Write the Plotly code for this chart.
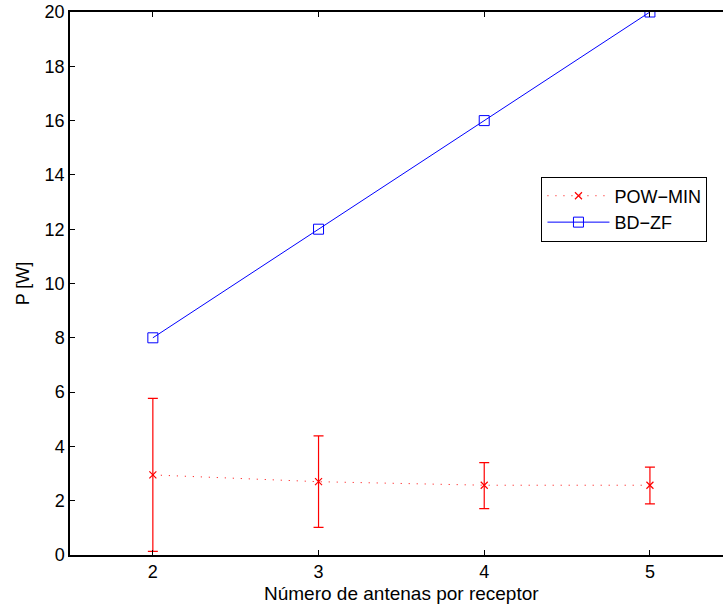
import plotly.graph_objects as go

x_vals = [2, 3, 4, 5]
bdzf = [8, 12, 16, 20]
pow_mean = [2.95, 2.70, 2.57, 2.57]
pow_upper = [5.77, 4.39, 3.40, 3.24]
pow_lower = [0.13, 1.02, 1.71, 1.88]

err_plus = [u - m for u, m in zip(pow_upper, pow_mean)]
err_minus = [m - l for m, l in zip(pow_mean, pow_lower)]

font_family = "Liberation Sans, Arial, Helvetica, sans-serif"
fs = 18

fig = go.Figure()
fig.add_trace(go.Scatter(
    x=x_vals, y=pow_mean, name="POW\u2212MIN", mode="lines+markers",
    line=dict(color="red", width=1, dash="1px,7px"),
    marker=dict(symbol="x-thin", size=7, line=dict(color="red", width=1.2), color="red"),
    error_y=dict(type="data", array=err_plus, arrayminus=err_minus, symmetric=False,
                 color="red", thickness=1.2, width=5),
))
fig.add_trace(go.Scatter(
    x=x_vals, y=bdzf, name="BD\u2212ZF", mode="lines+markers",
    line=dict(color="blue", width=1),
    marker=dict(symbol="square-open", size=10, color="blue", line=dict(width=1)),
))

fig.update_layout(
    width=723, height=605,
    margin=dict(l=70, r=0, t=12, b=50),
    paper_bgcolor="white", plot_bgcolor="white",
    font=dict(family=font_family, size=fs, color="black"),
    showlegend=True,
    legend=dict(x=0.722, y=0.697, xanchor="left", yanchor="top",
                bgcolor="white", bordercolor="black", borderwidth=1,
                font=dict(size=fs), itemwidth=62, tracegroupgap=0),
    annotations=[dict(text="Número de antenas por receptor", xref="paper", yref="paper",
                      x=0.507, y=0, xanchor="center", yanchor="top", yshift=-26,
                      showarrow=False, font=dict(size=19))],
)
fig.update_xaxes(
    range=[1.5, 5.441], tickvals=x_vals, ticks="inside", ticklen=5, tickwidth=1,
    tickcolor="black", showline=True, linecolor="black", linewidth=1.5,
    mirror="ticks", showgrid=False, zeroline=False,
)
fig.update_yaxes(
    range=[0, 20], tickvals=list(range(0, 21, 2)), ticks="inside", ticklen=5, tickwidth=1,
    tickcolor="black", showline=True, linecolor="black", linewidth=1.5,
    mirror=False, showgrid=False, zeroline=False,
    title=dict(text="P [W]", font=dict(size=fs), standoff=10),
)

fig.write_html("out.html")
